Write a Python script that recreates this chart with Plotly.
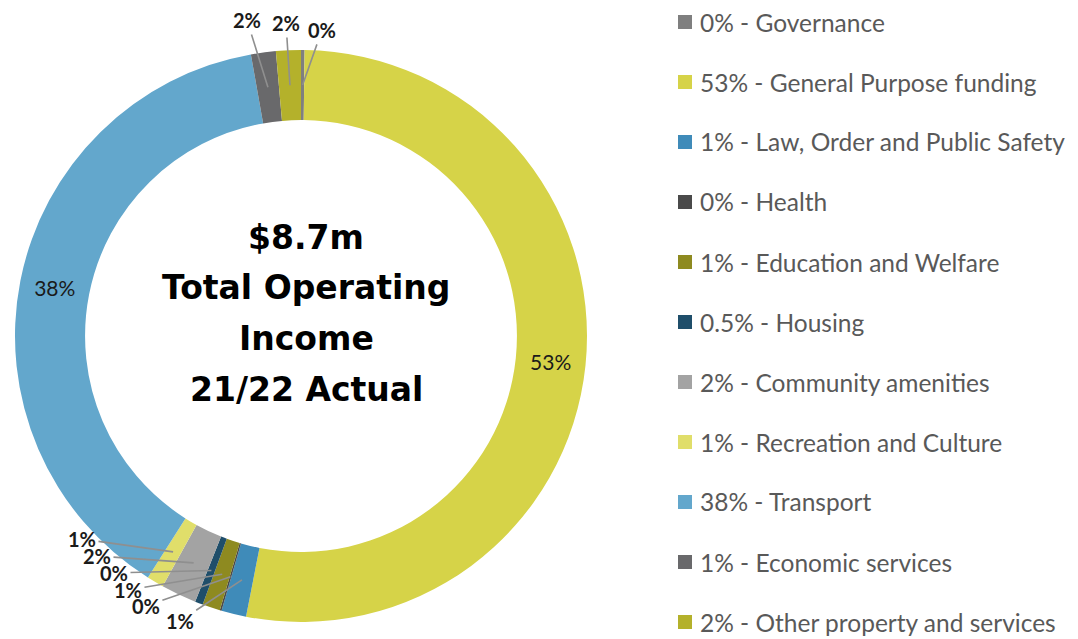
import math
import plotly.graph_objects as go

categories = ["Governance", "General Purpose funding", "Law, Order and Public Safety", "Health",
              "Education and Welfare", "Housing", "Community amenities", "Recreation and Culture",
              "Transport", "Economic services", "Other property and services"]
values = [0.2, 52.8, 1.4, 0.1, 1.0, 0.45, 2.0, 0.95, 38.15, 1.4, 1.4]
slice_labels = ["0%", "53%", "1%", "0%", "1%", "0%", "2%", "1%", "38%", "2%", "2%"]
legend_pct = ["0%", "53%", "1%", "0%", "1%", "0.5%", "2%", "1%", "38%", "1%", "2%"]
colors = ["#7f7f7f", "#d6d348", "#3f8bb9", "#4a4a4a", "#8e8a20", "#1f4e6a",
          "#a3a3a3", "#e0de6a", "#63a7cc", "#69696b", "#b4b12b"]
center_lines = ["$8.7m", "Total Operating", "Income", "21/22 Actual"]

# ---- layout / style (pixel placement, in page coordinates) ----
OFF = 8                      # page body margin around the figure
W, H = 1078 - OFF, 639 - OFF  # figure size so it fills the window
cx, cy, R = 301, 336, 286
HOLE = 0.755


def px(x):
    return (x - OFF) / W


def py(y):
    return 1 - (y - OFF) / H


# text-centre positions for the leader-line labels of the small slices (page pixels)
label_pos = {
    "Governance": (322, 30),
    "Other property and services": (286, 23),
    "Economic services": (247, 20),
    "Recreation and Culture": (82, 539),
    "Community amenities": (97, 556),
    "Housing": (114, 573),
    "Education and Welfare": (128, 590),
    "Health": (146, 606),
    "Law, Order and Public Safety": (180, 621),
}

positions = ["inside" if v > 10 else "none" for v in values]

fig = go.Figure(go.Pie(
    labels=categories, values=values, text=slice_labels, textinfo="text",
    sort=False, direction="clockwise", rotation=0, hole=HOLE,
    marker=dict(colors=colors, line=dict(width=0)),
    textposition=positions, insidetextorientation="horizontal",
    textfont=dict(family="Lato", size=21, color="#1a1a1a"),
    domain=dict(x=[px(cx - R), px(cx + R)], y=[py(cy + R), py(cy - R)]),
    showlegend=False, hoverinfo="label+percent", automargin=False,
))

# leader-line labels for small slices, anchored at each slice's mid angle
total = sum(values)
r_mid = R * (1 + HOLE) / 2
cum = 0.0
for cat, v, lab in zip(categories, values, slice_labels):
    mid = (cum + v / 2) / total
    cum += v
    if cat not in label_pos:
        continue
    th = 2 * math.pi * mid
    tx = cx + r_mid * math.sin(th)
    ty = cy - r_mid * math.cos(th)
    lx, ly = label_pos[cat]
    fig.add_annotation(
        x=px(tx), y=py(ty), xref="paper", yref="paper",
        ax=lx - tx, ay=ly - ty, axref="pixel", ayref="pixel",
        text=f"<b>{lab}</b>", showarrow=True, arrowhead=0, arrowwidth=1.6,
        arrowcolor="#8f8f8f", standoff=0, startstandoff=2, borderpad=0,
        font=dict(family="Lato", size=20, color="#1a1a1a"),
    )

line_y = [237, 287, 338, 389]
for txt, yy in zip(center_lines, line_y):
    fig.add_annotation(
        x=px(306), y=py(yy), xref="paper", yref="paper",
        text=f"<b>{txt}</b>", showarrow=False, align="center",
        xanchor="center", yanchor="middle",
        font=dict(family="DejaVu Sans", size=33, color="#000000"),
    )

for i, (pct, cat, col) in enumerate(zip(legend_pct, categories, colors)):
    yc = 22 + 60 * i
    fig.add_shape(type="rect", xref="paper", yref="paper",
                  x0=px(678), x1=px(692), y0=py(yc + 7), y1=py(yc - 7),
                  fillcolor=col, line=dict(width=0))
    fig.add_annotation(x=px(698), y=py(yc), xref="paper", yref="paper",
                       text=f"{pct} - {cat}", showarrow=False, xanchor="left", yanchor="middle",
                       font=dict(family="Lato", size=24.5, color="#595959"))

fig.update_layout(width=W, height=H, margin=dict(l=0, r=0, t=0, b=0, autoexpand=False),
                  paper_bgcolor="white", plot_bgcolor="white")
fig.write_html("out.html")
